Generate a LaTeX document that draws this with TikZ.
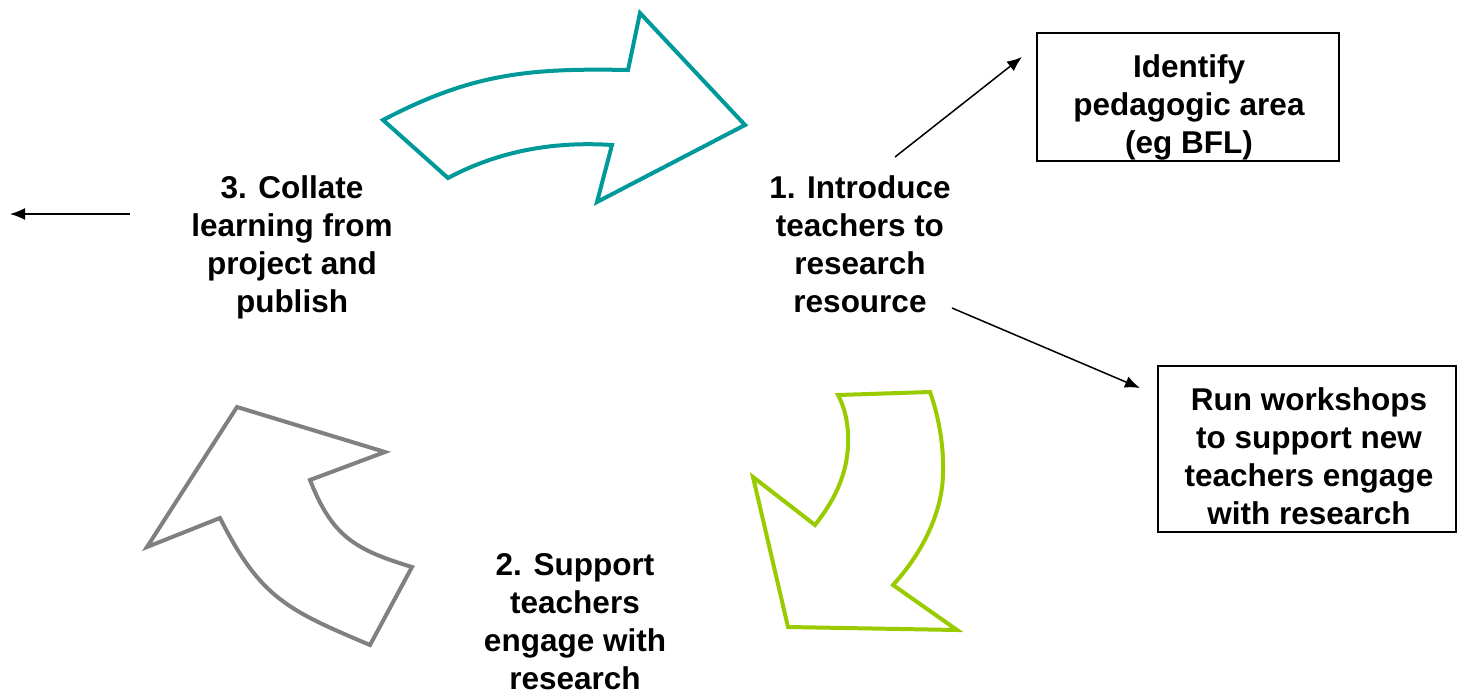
\documentclass[tikz,border=0pt]{standalone}
\usepackage{fontspec}
\setmainfont{Liberation Sans}
\usetikzlibrary{arrows.meta}
\definecolor{tealc}{HTML}{009999}
\definecolor{greenc}{HTML}{99CC00}
\definecolor{grayc}{HTML}{808080}
\begin{document}
\begin{tikzpicture}[x=1pt,y=-1pt,
  lbl/.style={font=\fontsize{31.5}{38}\selectfont\bfseries, align=center, inner sep=0pt},
  boxn/.style={draw, line width=1.5pt, inner sep=0pt},
  conn/.style={line width=1.5pt, -{Latex[length=15pt,width=12pt]}},
  bigarrow/.style={line width=4pt, line join=miter, fill=white}]
\useasboundingbox (0,0) rectangle (1457,691);

% curved block arrows
\draw[bigarrow, draw=tealc] (745,125) -- (640,13) -- (628,70)
  .. controls (528,68) and (471.6,73.6) .. (383,120) -- (448,178)
  .. controls (496.7,152) and (551.3,141) .. (612,145) -- (597,202) -- cycle;
\draw[bigarrow, draw=greenc] (838,395) -- (930,392)
  .. controls (940,420) and (944,450) .. (943,475)
  .. controls (942,510) and (925,550) .. (893,585) -- (957,630)
  -- (788,627) -- (753,477) -- (815,525)
  .. controls (833,502) and (846,478) .. (848,447)
  .. controls (849,428) and (846,410) .. cycle;
\draw[bigarrow, draw=grayc] (237,407) -- (385,452) -- (310,480)
  .. controls (332,536) and (354.4,549.6) .. (412,567) -- (370,645)
  .. controls (287.2,609.9) and (260.5,598.1) .. (220,518) -- (147,547) -- cycle;

% labels
\node[lbl] (collate) at (292,247) {3. Collate\\learning from\\project and\\publish};
\node[lbl] (intro) at (860,244) {1. Introduce\\teachers to\\research\\resource};
\node[lbl] (support) at (575,622) {2. Support\\teachers\\engage with\\research};
\node[boxn, minimum width=302pt, minimum height=128pt] (ident) at (1188,97) {};
\node[lbl] (identtxt) at (1189,107) {Identify\\pedagogic area\\(eg BFL)};
\node[boxn, minimum width=298pt, minimum height=166pt] (run) at (1307,449) {};
\node[lbl] (runtxt) at (1309,456) {Run workshops\\to support new\\teachers engage\\with research};

% connectors
\coordinate (a1s) at (895,157); \coordinate (a1e) at (1022,57);
\coordinate (a2s) at (952,308); \coordinate (a2e) at (1140,388);
\coordinate (a3s) at (130,214); \coordinate (a3e) at (10,214);
\draw[conn] (a1s) -- (a1e);
\draw[conn] (a2s) -- (a2e);
\draw[conn] (a3s) -- (a3e);
\end{tikzpicture}
\end{document}
